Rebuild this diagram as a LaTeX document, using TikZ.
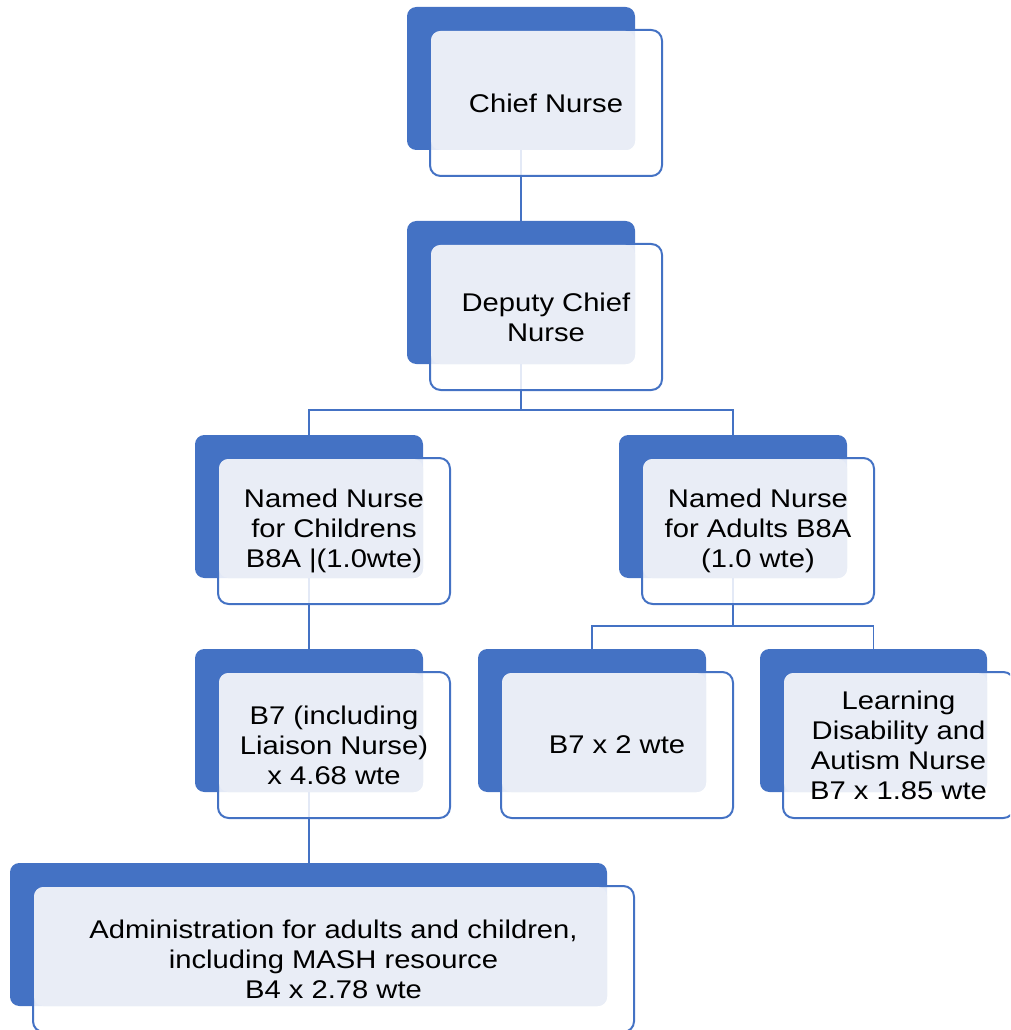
\documentclass[tikz,border=0pt]{standalone}
\usepackage{fontspec}
\setmainfont{Liberation Sans}
\usetikzlibrary{calc}
\definecolor{orgblue}{HTML}{4472C4}
\definecolor{orglight}{HTML}{E9EDF6}
\tikzset{
  backbox/.style={draw=none, fill=orgblue, rounded corners=7pt, anchor=north west,
    inner sep=0pt, outer sep=0pt, minimum height=143*0.75pt},
  frontbox/.style={draw=orgblue, line width=1.5pt, fill=white, fill opacity=0.85,
    rounded corners=8pt, anchor=north west, inner sep=0pt, outer sep=0pt,
    minimum height=146*0.75pt},
  lightfill/.style={fill=orglight, rounded corners=7pt},
  caption/.style={align=center, text=black, inner sep=0pt, xscale=1.14, transform shape,
    font=\fontsize{19.2pt}{22.5pt}\selectfont},
  conn/.style={draw=orgblue, line width=1.4pt}
}
% #1 name, #2 left, #3 top, #4 width, #5 text
\newcommand\orgbox[5]{%
  \node[backbox, minimum width=#4*0.75pt] (#1) at (#2,#3) {};
  \node[frontbox, minimum width=(#4+4)*0.75pt] (#1-f) at ({#2+23},{#3+23}) {};
  \path[lightfill] ($(#1-f.north west)+(1,1)$) rectangle (#1.south east);
  \node[caption] (#1-t) at (#1-f.center) {#5};
}
\begin{document}
\begin{tikzpicture}[x=0.75pt, y=-0.75pt]
\path[use as bounding box] (0,0) rectangle (1010,1030);
\clip (0,0) rectangle (1010,1030);
% connectors first, boxes are painted over them
\coordinate (c-chief) at (521,150);
\coordinate (c-dep) at (521,364);
\coordinate (c-nnc) at (309,578);
\coordinate (c-nna) at (733,578);
\coordinate (c-b7a) at (309,792);
\draw[conn] (c-chief) -- (521,221);
\draw[conn] (c-dep) -- (521,410) -| (309,435);
\draw[conn] (c-dep) -- (521,410) -| (733,435);
\draw[conn] (c-nnc) -- (309,649);
\draw[conn] (c-nna) -- (733,626) -| (592,649);
\draw[conn] (c-nna) -- (733,626) -| (873.5,649);
\draw[conn] (c-b7a) -- (309,863);

\orgbox{chief}{407}{7}{228}{Chief Nurse}
\orgbox{deputy}{407}{221}{228}{Deputy Chief\\Nurse}
\orgbox{nnc}{195}{435}{228}{Named Nurse\\for Childrens\\B8A |(1.0wte)}
\orgbox{nna}{619}{435}{228}{Named Nurse\\for Adults B8A\\(1.0 wte)}
\orgbox{b7a}{195}{649}{228}{B7 (including\\Liaison Nurse)\\x 4.68 wte}
\orgbox{b7b}{478}{649}{228}{B7 x 2 wte}
\orgbox{ld}{760}{649}{227}{Learning\\Disability and\\Autism Nurse\\B7 x 1.85 wte}
\orgbox{admin}{10}{863}{597}{Administration for adults and children,\\including MASH resource\\B4 x 2.78 wte}
\end{tikzpicture}
\end{document}
